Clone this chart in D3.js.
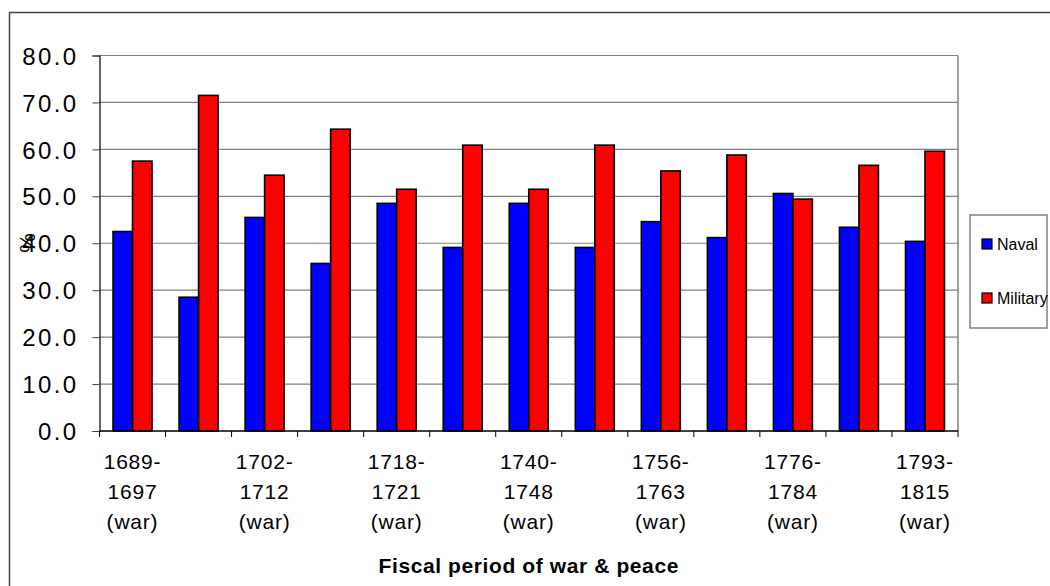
<!DOCTYPE html>
<html>
<head>
<meta charset="utf-8">
<script src="https://cdn.jsdelivr.net/npm/d3@7"></script>
<style>
  body { margin: 0; background: #fff; }
  text { font-family: "Liberation Sans", Arial, sans-serif; fill: #000; }
</style>
</head>
<body>
<script>
// data
let categories = ["1689-1697 (war)", "1698-1701 (peace)", "1702-1712 (war)", "1713-1717 (peace)",
                  "1718-1721 (war)", "1722-1739 (peace)", "1740-1748 (war)", "1749-1755 (peace)",
                  "1756-1763 (war)", "1764-1775 (peace)", "1776-1784 (war)", "1785-1792 (peace)",
                  "1793-1815 (war)"];
let series = ["Naval", "Military"];
let naval = [42.5, 28.5, 45.5, 35.7, 48.5, 39.1, 48.5, 39.1, 44.6, 41.2, 50.6, 43.4, 40.4];
let military = [57.5, 71.5, 54.5, 64.3, 51.5, 60.9, 51.5, 60.9, 55.4, 58.8, 49.4, 56.6, 59.6];
let y_ticks = [0, 10, 20, 30, 40, 50, 60, 70, 80];
let x_title = "Fiscal period of war & peace";
let y_title = "%";

// color
let color_naval = "#0000ff";
let color_military = "#ff0000";
let color_grid = "#808080";

let width = 1050;
let height = 586;
let plot = {left: 99.5, right: 958, top: 55.5, bottom: 431};

let svg = d3.select("body").append("svg")
            .attr("width", width)
            .attr("height", height);

// outer chart border (right/bottom fall off canvas)
svg.append("rect")
   .attr("x", 9.5).attr("y", 12.5)
   .attr("width", 1100).attr("height", 700)
   .style("fill", "none")
   .style("stroke", "#404040")
   .style("stroke-width", 1.5);

let x = d3.scaleBand()
          .domain(categories)
          .range([plot.left, plot.right])
          .padding(0);

let x_inner = d3.scaleBand()
                .domain(series)
                .range([x.bandwidth() * 0.205, x.bandwidth() * 0.795]);

let y = d3.scaleLinear()
          .domain([0, 80])
          .range([plot.bottom, plot.top]);

// gridlines
svg.append("g")
   .selectAll("line")
   .data(y_ticks.filter(d => d > 0))
   .join("line")
   .attr("x1", plot.left).attr("x2", plot.right)
   .attr("y1", d => y(d)).attr("y2", d => y(d))
   .style("stroke", color_grid)
   .style("stroke-width", 1.2);

// right border of plot area
svg.append("line")
   .attr("x1", plot.right).attr("x2", plot.right)
   .attr("y1", plot.top).attr("y2", plot.bottom)
   .style("stroke", color_grid)
   .style("stroke-width", 1.5);

// bars
let rows = categories.map((c, i) => ({category: c, values: [naval[i], military[i]]}));
let colors = [color_naval, color_military];

svg.append("g")
   .selectAll("g")
   .data(rows)
   .join("g")
   .attr("transform", d => `translate(${x(d.category)},0)`)
   .selectAll("rect")
   .data(d => d.values.map((v, j) => ({key: series[j], value: v, color: colors[j]})))
   .join("rect")
   .attr("x", d => x_inner(d.key))
   .attr("y", d => y(d.value))
   .attr("width", x_inner.bandwidth())
   .attr("height", d => y(0) - y(d.value))
   .style("fill", d => d.color)
   .style("stroke", "#000")
   .style("stroke-width", 1.6);

// y axis
let y_axis = svg.append("g")
   .attr("transform", `translate(${plot.left},0)`)
   .call(d3.axisLeft(y).tickValues(y_ticks).tickFormat(d3.format(".1f")).tickSize(7).tickPadding(14));
y_axis.select(".domain").style("stroke", "#000").style("stroke-width", 1.2);
y_axis.selectAll(".tick line").style("stroke", "#404040");
y_axis.selectAll(".tick text")
      .attr("font-size", 24)
      .style("letter-spacing", "2.4px")
      .attr("dy", "0.36em");

// x axis, ticks on category boundaries
let boundaries = categories.map(c => x(c)).concat([plot.right]);
svg.append("line")
   .attr("x1", plot.left).attr("x2", plot.right)
   .attr("y1", plot.bottom).attr("y2", plot.bottom)
   .style("stroke", "#000")
   .style("stroke-width", 1.5);
svg.append("g")
   .selectAll("line")
   .data(boundaries)
   .join("line")
   .attr("x1", d => d).attr("x2", d => d)
   .attr("y1", plot.bottom).attr("y2", plot.bottom + 6)
   .style("stroke", "#000");

// category labels, every second one like the original
let label_g = svg.append("g")
   .selectAll("text")
   .data(categories.filter((c, i) => i % 2 === 0))
   .join("text")
   .attr("x", d => x(d) + x.bandwidth() / 2)
   .attr("y", 469)
   .attr("text-anchor", "middle")
   .attr("font-size", 21)
   .style("letter-spacing", "0.8px");

label_g.each(function(d) {
    let m = d.match(/^(\d+-)(\d+) (.*)$/);
    let lines = [m[1], m[2], m[3]];
    d3.select(this).selectAll("tspan")
      .data(lines)
      .join("tspan")
      .attr("x", x(d) + x.bandwidth() / 2)
      .attr("dy", (l, i) => i === 0 ? 0 : 30)
      .text(l => l);
});

// axis titles
svg.append("text")
   .attr("x", (plot.left + plot.right) / 2)
   .attr("y", 573)
   .attr("text-anchor", "middle")
   .attr("font-size", 21)
   .attr("font-weight", "bold")
   .style("letter-spacing", "0.6px")
   .text(x_title);

svg.append("text")
   .attr("transform", "translate(35,243) rotate(-90)")
   .attr("text-anchor", "middle")
   .attr("font-size", 22)
   .text(y_title);

// legend
let legend = svg.append("g");
legend.append("rect")
      .attr("x", 970).attr("y", 215)
      .attr("width", 77).attr("height", 113)
      .style("fill", "#fff")
      .style("stroke", color_grid)
      .style("stroke-width", 1.5);

let legend_items = legend.selectAll("g")
      .data(series)
      .join("g")
      .attr("transform", (d, i) => `translate(982,${244 + i * 54})`);
legend_items.append("rect")
      .attr("x", 0).attr("y", -5)
      .attr("width", 10).attr("height", 10)
      .style("fill", (d, i) => colors[i])
      .style("stroke", "#000")
      .style("stroke-width", 1.2);
legend_items.append("text")
      .attr("x", 15).attr("y", 6)
      .attr("font-size", 16)
      .text(d => d);
</script>
</body>
</html>
